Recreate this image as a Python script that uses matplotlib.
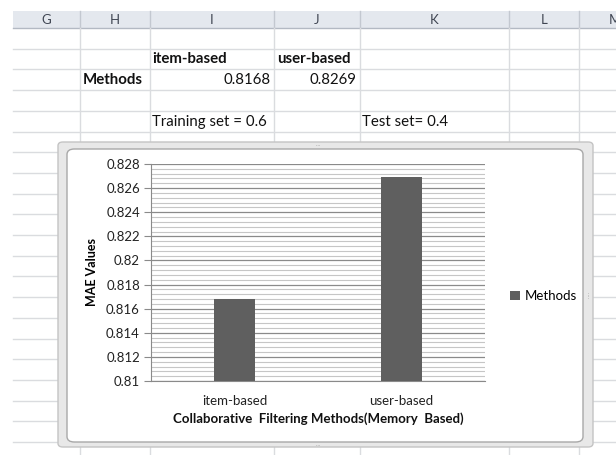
import matplotlib.pyplot as plt
from matplotlib.patches import Rectangle, FancyBboxPatch
from matplotlib.lines import Line2D
from matplotlib.ticker import MultipleLocator

# ---- data ----
methods = ['item-based', 'user-based']
mae = [0.8168, 0.8269]
series_name = 'Methods'
col_letters = ['G', 'H', 'I', 'J', 'K', 'L', 'M']
train_txt = 'Training set = 0.6'
test_txt = 'Test set= 0.4'

W, H = 616, 455
plt.rcParams['font.family'] = ['Lato', 'DejaVu Sans']

fig = plt.figure(figsize=(W / 100, H / 100), dpi=100)

# helpers to work in pixel coordinates (y down from top)
def fx(x):
    return x / W

def fy(y):
    return 1 - y / H

def hline(x0, x1, y, color, lw=1, z=1):
    fig.lines.append(Line2D([fx(x0), fx(x1)], [fy(y), fy(y)], transform=fig.transFigure,
                            color=color, lw=lw, zorder=z))

def vline(x, y0, y1, color, lw=1, z=1):
    fig.lines.append(Line2D([fx(x), fx(x)], [fy(y0), fy(y1)], transform=fig.transFigure,
                            color=color, lw=lw, zorder=z))

# ---- spreadsheet background ----
col_edges = [13, 80, 150, 274, 360, 509, 579, 650]
row_lines = [28 + 20.7 * k for k in range(1, 21)]
grid_col = '#dadcdf'

fig.patches.append(Rectangle((fx(13), fy(28)), fx(W - 13), 17 / H,
                             transform=fig.transFigure, fc='#e4e8ee', ec='none', zorder=0.5))
hline(13, W, 28, '#b3b9c3')
for i, c in enumerate(col_letters):
    x0, x1 = col_edges[i], col_edges[i + 1]
    fig.text(fx((x0 + x1) / 2), fy(19.5), c, ha='center', va='center',
             fontsize=9.5, color='#3f4552', zorder=1)
for x in col_edges[1:-1]:
    vline(x, 11, 28, '#c3c8d0')
    vline(x, 28, H, grid_col)
for y in row_lines:
    hline(13, W, y, grid_col)

# cell text
cell_fs = 10.8
fig.text(fx(152), fy(59), methods[0], ha='left', va='center', fontsize=cell_fs, weight='bold', color='#111111')
fig.text(fx(277), fy(59), methods[1], ha='left', va='center', fontsize=cell_fs, weight='bold', color='#111111')
fig.text(fx(83), fy(80), series_name, ha='left', va='center', fontsize=cell_fs, weight='bold', color='#111111')
fig.text(fx(271), fy(80), '%.4f' % mae[0], ha='right', va='center', fontsize=cell_fs, color='#111111')
fig.text(fx(357), fy(80), '%.4f' % mae[1], ha='right', va='center', fontsize=cell_fs, color='#111111')
fig.text(fx(152), fy(122), train_txt, ha='left', va='center', fontsize=cell_fs, color='#111111')
fig.text(fx(362), fy(122), test_txt, ha='left', va='center', fontsize=cell_fs, color='#111111')

# ---- chart object frame ----
fig.patches.append(FancyBboxPatch((fx(58), fy(447)), fx(593 - 58), (447 - 142) / H,
                                  boxstyle='round,pad=0,rounding_size=0.008',
                                  transform=fig.transFigure, fc='#e8e8e8', ec='#c4c4c4',
                                  lw=1, zorder=5))
fig.patches.append(FancyBboxPatch((fx(67), fy(442)), fx(583 - 67), (442 - 149) / H,
                                  boxstyle='round,pad=0,rounding_size=0.012',
                                  transform=fig.transFigure, fc='white', ec='#a8a8a8',
                                  lw=1, zorder=6))
for (x, y, s) in [(318, 144.5, '....'), (318, 444.5, '....'), (588, 296, ':\n:')]:
    fig.text(fx(x), fy(y), s, ha='center', va='center', fontsize=4, color='#9a9a9a',
             zorder=7, linespacing=0.5)

# ---- chart ----
ax = fig.add_axes([fx(151), fy(381), fx(485 - 151), (381 - 164) / H])
ax.set_zorder(10)
ax.set_facecolor('none')
bars = ax.bar(methods, mae, width=0.25, color='#5f5f5f', label=series_name, zorder=3)
ax.set_xlim(-0.5, 1.5)
ax.yaxis.set_major_locator(MultipleLocator(0.002))
ax.yaxis.set_minor_locator(MultipleLocator(0.0004))
ax.set_ylim(0.81, 0.828)
ax.set_yticks(ax.get_yticks())
ax.set_yticklabels(['%g' % v for v in ax.get_yticks()])
ax.set_ylim(0.81, 0.828)
ax.grid(which='major', axis='y', color='#8a8a8a', lw=0.9, zorder=1)
ax.grid(which='minor', axis='y', color='#c6c6c6', lw=0.8, zorder=1)
ax.tick_params(axis='y', which='major', length=5, color='#8a8a8a', labelsize=9.5,
               labelcolor='#222222', pad=3)
ax.tick_params(axis='y', which='minor', length=0)
ax.tick_params(axis='x', length=0, labelsize=9.5, labelcolor='#222222', pad=10)
for s in ['top', 'right']:
    ax.spines[s].set_visible(False)
ax.spines['left'].set_color('#8a8a8a')
ax.spines['bottom'].set_color('#8a8a8a')
ax.set_ylabel('MAE Values', fontsize=9, weight='bold', labelpad=6)
ax.set_xlabel('Collaborative  Filtering Methods(Memory  Based)', fontsize=9.5,
              weight='bold', labelpad=4, color='#111111')
ax.legend(loc='center left', bbox_to_anchor=(fx(505 - 151) / fx(485 - 151), 0.39),
          frameon=False, fontsize=9.5, handlelength=0.7, handleheight=0.7,
          handletextpad=0.4, borderaxespad=0)

fig.savefig('out.png', dpi=100)
